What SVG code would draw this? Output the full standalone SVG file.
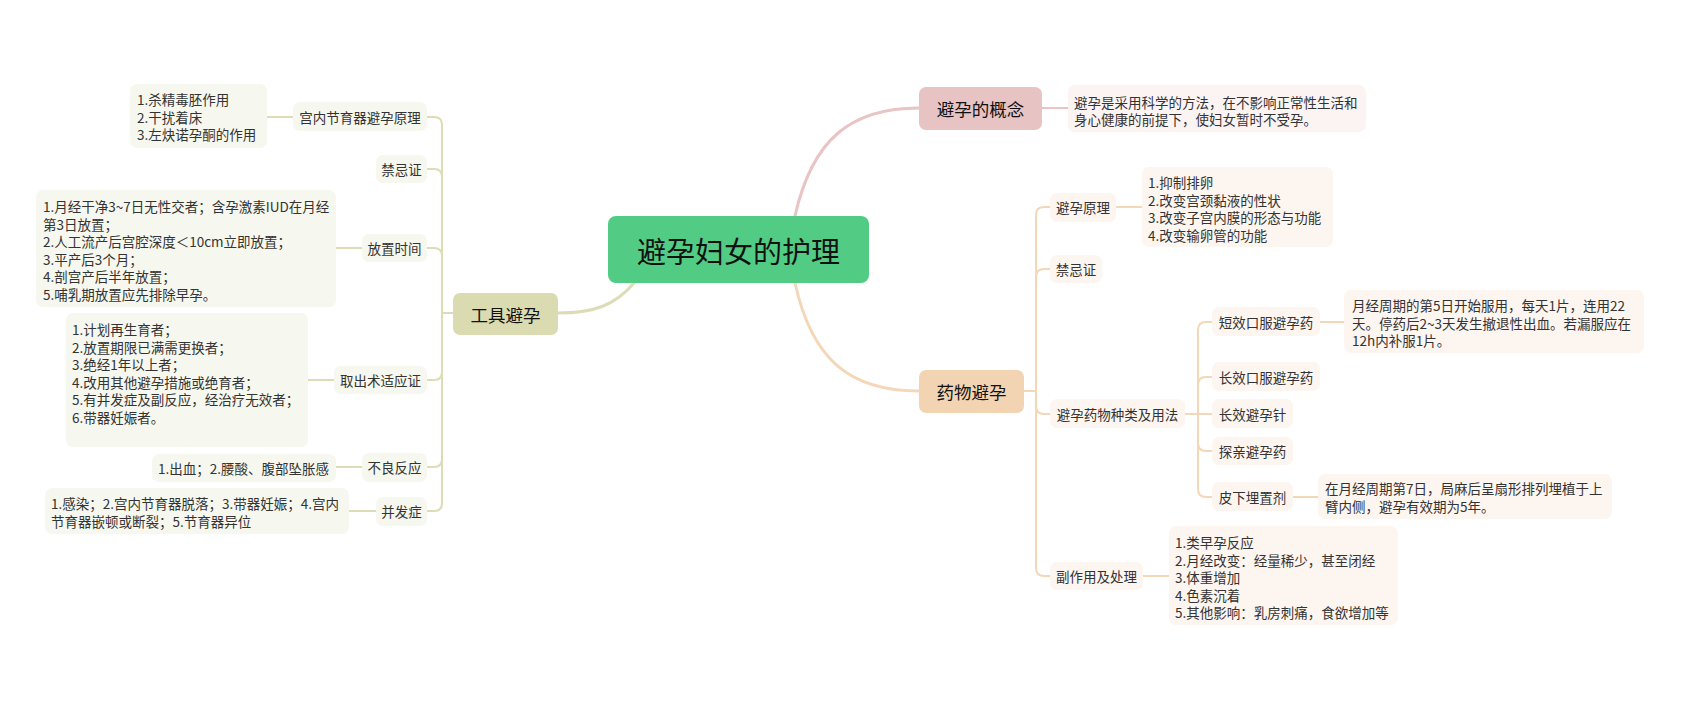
<svg xmlns="http://www.w3.org/2000/svg" width="1684" height="701" viewBox="0 0 1684 701">
<style>
text{font-family:"Noto Sans CJK SC","Noto Sans",sans-serif;fill:#333333;}
.c{text-anchor:middle;dominant-baseline:central;}
.l{dominant-baseline:central;}
.s{font-size:13.5px;}
.m{font-size:17.5px;fill:#111;}
.root{font-size:29px;fill:#111;}
.ln{fill:none;stroke-linecap:round;}
.g{stroke:#DCDDB6;}
.p{stroke:#E8C4C4;}
.o{stroke:#F4D7B8;}
.gs{fill:#F6F7EE;}
.ps{fill:#FCF3F3;}
.os{fill:#FDF5F0;}
</style>
<rect width="1684" height="701" fill="#FFFFFF"/>
<g id="connectors">
<path class="ln g" stroke-width="3" d="M634,283 C615,305 595,313 558,313"/>
<path class="ln p" stroke-width="3" d="M795,216 C812,140 850,108 919,108"/>
<path class="ln o" stroke-width="3" d="M795,283 C812,360 850,391 919,391"/>
<g class="ln g" stroke-width="2">
<path d="M453,313 H442 V125 Q442,117 434,117 H427"/>
<path d="M442,177 Q442,169 434,169 H427"/>
<path d="M442,256 Q442,248 434,248 H427"/>
<path d="M453,313 H442 V503 Q442,511 434,511 H427"/>
<path d="M442,372 Q442,380 434,380 H427"/>
<path d="M442,459 Q442,467 434,467 H427"/>
<path d="M293,117 H267"/>
<path d="M362,248 H336"/>
<path d="M334,380 H308"/>
<path d="M362,467 H336"/>
<path d="M376,511 H349"/>
</g>
<path class="ln p" stroke-width="2" d="M1042,108 H1068"/>
<g class="ln o" stroke-width="2">
<path d="M1024,391 H1036 V215 Q1036,207 1044,207 H1050"/>
<path d="M1036,277 Q1036,269 1044,269 H1050"/>
<path d="M1036,391 V568 Q1036,576 1044,576 H1050"/>
<path d="M1036,406 Q1036,414 1044,414 H1050"/>
<path d="M1185,414 H1198 V330 Q1198,322 1206,322 H1212"/>
<path d="M1198,385 Q1198,377 1206,377 H1212"/>
<path d="M1198,414 H1212"/>
<path d="M1185,414 H1198 V489 Q1198,497 1206,497 H1212"/>
<path d="M1198,443 Q1198,451 1206,451 H1212"/>
<path d="M1116,207 H1142"/>
<path d="M1320,322 H1344"/>
<path d="M1293,497 H1318"/>
<path d="M1143,576 H1169"/>
</g>
</g>
<g id="root">
<rect x="608" y="216" width="261" height="67" rx="8" fill="#52CC84"/>
<text class="c root" x="738.5" y="250">避孕妇女的护理</text>
</g>
<g id="tool">
<rect x="453" y="293" width="105" height="42" rx="7" fill="#DADBB0"/>
<text class="c m" x="505.5" y="314">工具避孕</text>
</g>
<g id="tool-principle">
<rect class="gs" x="293" y="102" width="134" height="29" rx="7"/>
<text class="c s" x="360" y="116.5">宫内节育器避孕原理</text>
</g>
<g id="tool-principle-detail">
<rect class="gs" x="130" y="84" width="137" height="64" rx="7"/>
<text class="l s" x="137" y="99">1.杀精毒胚作用</text>
<text class="l s" x="137" y="116.5">2.干扰着床</text>
<text class="l s" x="137" y="134">3.左炔诺孕酮的作用</text>
</g>
<g id="tool-contra">
<rect class="gs" x="376" y="155" width="51" height="28" rx="7"/>
<text class="c s" x="401.5" y="169">禁忌证</text>
</g>
<g id="tool-time">
<rect class="gs" x="362" y="234" width="65" height="28" rx="7"/>
<text class="c s" x="394.5" y="248">放置时间</text>
</g>
<g id="tool-time-detail">
<rect class="gs" x="36" y="190" width="300" height="117" rx="7"/>
<text class="l s" x="43" y="206">1.月经干净3~7日无性交者；含孕激素IUD在月经</text>
<text class="l s" x="43" y="223.5">第3日放置；</text>
<text class="l s" x="43" y="241">2.人工流产后宫腔深度＜10cm立即放置；</text>
<text class="l s" x="43" y="258.5">3.平产后3个月；</text>
<text class="l s" x="43" y="276">4.剖宫产后半年放置；</text>
<text class="l s" x="43" y="293.5">5.哺乳期放置应先排除早孕。</text>
</g>
<g id="tool-removal">
<rect class="gs" x="334" y="366" width="93" height="28" rx="7"/>
<text class="c s" x="380.5" y="380">取出术适应证</text>
</g>
<g id="tool-removal-detail">
<rect class="gs" x="66" y="313" width="242" height="134" rx="7"/>
<text class="l s" x="72" y="329">1.计划再生育者；</text>
<text class="l s" x="72" y="346.5">2.放置期限已满需更换者；</text>
<text class="l s" x="72" y="364">3.绝经1年以上者；</text>
<text class="l s" x="72" y="381.5">4.改用其他避孕措施或绝育者；</text>
<text class="l s" x="72" y="399">5.有并发症及副反应，经治疗无效者；</text>
<text class="l s" x="72" y="416.5">6.带器妊娠者。</text>
</g>
<g id="tool-adverse">
<rect class="gs" x="362" y="453" width="65" height="29" rx="7"/>
<text class="c s" x="394.5" y="467">不良反应</text>
</g>
<g id="tool-adverse-detail">
<rect class="gs" x="152" y="454" width="184" height="28" rx="7"/>
<text class="l s" x="158" y="468">1.出血；2.腰酸、腹部坠胀感</text>
</g>
<g id="tool-complication">
<rect class="gs" x="376" y="497" width="51" height="29" rx="7"/>
<text class="c s" x="401.5" y="511">并发症</text>
</g>
<g id="tool-complication-detail">
<rect class="gs" x="45" y="488" width="304" height="46" rx="7"/>
<text class="l s" x="51" y="503">1.感染；2.宫内节育器脱落；3.带器妊娠；4.宫内</text>
<text class="l s" x="51" y="521">节育器嵌顿或断裂；5.节育器异位</text>
</g>
<g id="concept">
<rect x="919" y="87" width="123" height="43" rx="7" fill="#E8C3C3"/>
<text class="c m" x="980.5" y="108">避孕的概念</text>
</g>
<g id="concept-detail">
<rect class="ps" x="1068" y="85" width="298" height="47" rx="7"/>
<text class="l s" x="1074" y="102">避孕是采用科学的方法，在不影响正常性生活和</text>
<text class="l s" x="1074" y="119">身心健康的前提下，使妇女暂时不受孕。</text>
</g>
<g id="drug">
<rect x="919" y="370" width="105" height="43" rx="7" fill="#F3D4B2"/>
<text class="c m" x="971.5" y="391">药物避孕</text>
</g>
<g id="drug-principle">
<rect class="os" x="1050" y="193" width="66" height="29" rx="7"/>
<text class="c s" x="1083" y="207">避孕原理</text>
</g>
<g id="drug-principle-detail">
<rect class="os" x="1142" y="167" width="191" height="80" rx="7"/>
<text class="l s" x="1148" y="182">1.抑制排卵</text>
<text class="l s" x="1148" y="199.5">2.改变宫颈黏液的性状</text>
<text class="l s" x="1148" y="217">3.改变子宫内膜的形态与功能</text>
<text class="l s" x="1148" y="234.5">4.改变输卵管的功能</text>
</g>
<g id="drug-contra">
<rect class="os" x="1050" y="255" width="52" height="28" rx="7"/>
<text class="c s" x="1076" y="269">禁忌证</text>
</g>
<g id="drug-types">
<rect class="os" x="1050" y="399" width="135" height="29" rx="7"/>
<text class="c s" x="1117.5" y="413.5">避孕药物种类及用法</text>
</g>
<g id="drug-short">
<rect class="os" x="1212" y="307" width="108" height="29" rx="7"/>
<text class="c s" x="1266" y="321.5">短效口服避孕药</text>
</g>
<g id="drug-short-detail">
<rect class="os" x="1344" y="290" width="300" height="63" rx="7"/>
<text class="l s" x="1352" y="305">月经周期的第5日开始服用，每天1片，连用22</text>
<text class="l s" x="1352" y="322.5">天。停药后2~3天发生撤退性出血。若漏服应在</text>
<text class="l s" x="1352" y="340">12h内补服1片。</text>
</g>
<g id="drug-long-oral">
<rect class="os" x="1212" y="362" width="108" height="29" rx="7"/>
<text class="c s" x="1266" y="376.5">长效口服避孕药</text>
</g>
<g id="drug-injection">
<rect class="os" x="1212" y="399" width="81" height="29" rx="7"/>
<text class="c s" x="1252.5" y="413.5">长效避孕针</text>
</g>
<g id="drug-visit">
<rect class="os" x="1212" y="437" width="81" height="28" rx="7"/>
<text class="c s" x="1252.5" y="451">探亲避孕药</text>
</g>
<g id="drug-implant">
<rect class="os" x="1212" y="482" width="81" height="29" rx="7"/>
<text class="c s" x="1252.5" y="496.5">皮下埋置剂</text>
</g>
<g id="drug-implant-detail">
<rect class="os" x="1318" y="474" width="294" height="45" rx="7"/>
<text class="l s" x="1325" y="488">在月经周期第7日，局麻后呈扇形排列埋植于上</text>
<text class="l s" x="1325" y="506">臂内侧，避孕有效期为5年。</text>
</g>
<g id="drug-side">
<rect class="os" x="1050" y="562" width="93" height="28" rx="7"/>
<text class="c s" x="1096.5" y="576">副作用及处理</text>
</g>
<g id="drug-side-detail">
<rect class="os" x="1169" y="526" width="229" height="99" rx="7"/>
<text class="l s" x="1175" y="542">1.类早孕反应</text>
<text class="l s" x="1175" y="559.5">2.月经改变：经量稀少，甚至闭经</text>
<text class="l s" x="1175" y="577">3.体重增加</text>
<text class="l s" x="1175" y="594.5">4.色素沉着</text>
<text class="l s" x="1175" y="612">5.其他影响：乳房刺痛，食欲增加等</text>
</g>
</svg>
